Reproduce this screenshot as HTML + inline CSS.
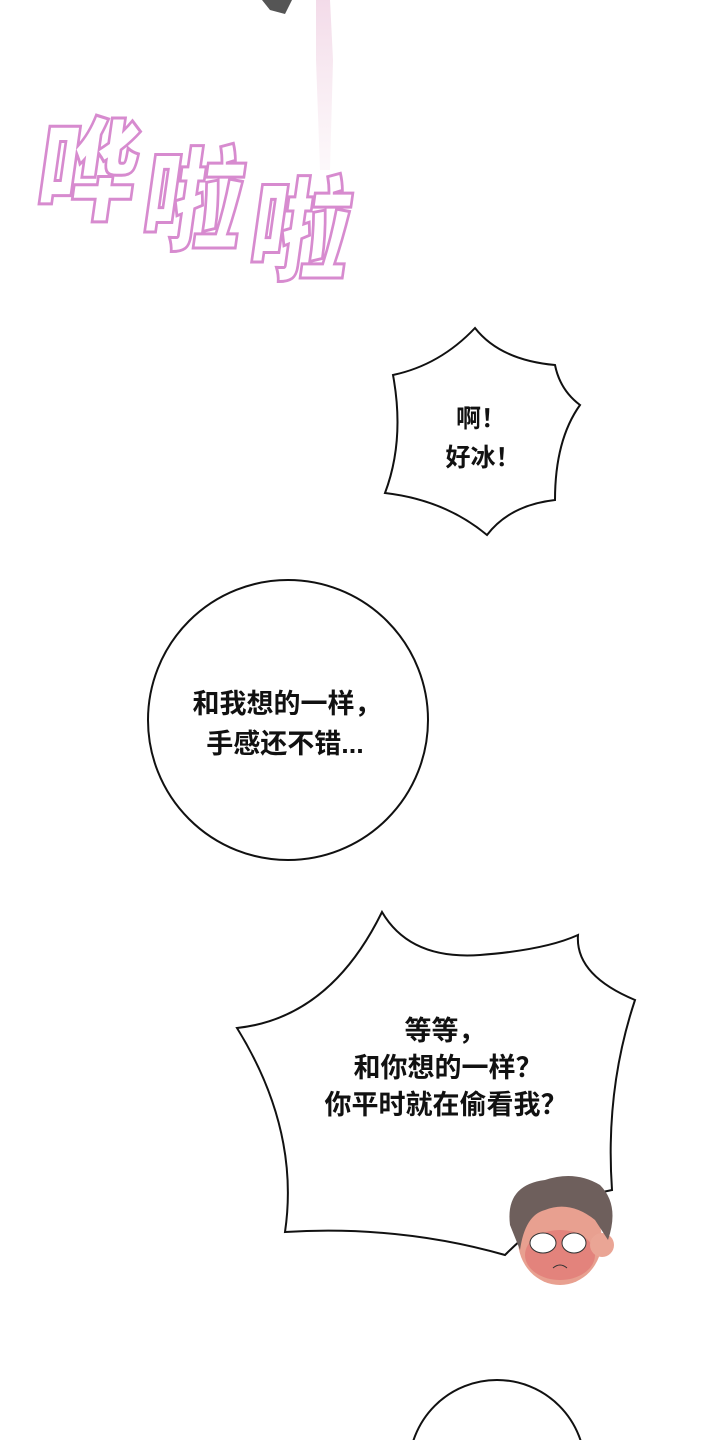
<!DOCTYPE html>
<html><head><meta charset="utf-8"><style>
html,body{margin:0;padding:0;background:#fff;width:720px;height:1440px;overflow:hidden}
svg{display:block}
.t{font-family:"Liberation Sans","Noto Sans CJK SC",sans-serif;font-weight:700;fill:#111;text-anchor:middle}
.s{font-family:"Noto Sans CJK SC",sans-serif;font-weight:900;font-size:112px;fill:#fff;stroke:#d78bcf;stroke-width:3}
</style></head><body>
<svg width="720" height="1440" viewBox="0 0 720 1440" xmlns="http://www.w3.org/2000/svg">
<defs><linearGradient id="pk" x1="0" y1="0" x2="0" y2="1">
<stop offset="0" stop-color="#f3dbe9"/><stop offset="1" stop-color="#f7e8ef" stop-opacity="0.3"/></linearGradient></defs>
<polygon points="262,0 292,0 285,14 270,10" fill="#555"/>
<path d="M316,0 L330,0 L333,60 L330,170 L320,170 L316,60 Z" fill="url(#pk)"/>
<text class="s" transform="translate(32,211) skewX(-8) scale(0.9,1)">哗</text>
<text class="s" transform="translate(138,241) skewX(-8) scale(0.9,1)">啦</text>
<text class="s" transform="translate(245,271) skewX(-8) scale(0.9,1)">啦</text>
<path d="M393,375 Q440,365 475,328 Q500,360 555,365 Q560,390 580,405 Q555,440 555,500 Q510,505 487,535 Q445,500 385,493 Q405,440 393,375 Z" fill="#fff" stroke="#111" stroke-width="2"/>
<text class="t" x="481" y="427" font-size="25">啊！</text>
<text class="t" x="483" y="466" font-size="25">好冰！</text>
<circle cx="288" cy="720" r="140" fill="#fff" stroke="#111" stroke-width="2"/>
<text class="t" x="287" y="713" font-size="27">和我想的一样，</text>
<text class="t" x="285" y="753" font-size="27">手感还不错...</text>
<path d="M237,1028 Q330,1018 382,912 Q410,960 480,955 Q545,950 578,935 Q575,975 635,1000 Q605,1090 612,1190 Q560,1200 505,1255 Q400,1225 285,1232 Q300,1130 237,1028 Z" fill="#fff" stroke="#111" stroke-width="2"/>
<text class="t" x="445" y="1040" font-size="27">等等，</text>
<text class="t" x="448" y="1077" font-size="27">和你想的一样？</text>
<text class="t" x="446" y="1114" font-size="27">你平时就在偷看我？</text>
<g>
<ellipse cx="560" cy="1240" rx="42" ry="45" fill="#e8a090"/>
<ellipse cx="560" cy="1255" rx="35" ry="25" fill="#e07070" opacity="0.6"/>
<circle cx="602" cy="1245" r="12" fill="#eaa595"/>
<path d="M510,1225 Q505,1185 545,1180 Q575,1170 600,1185 Q620,1205 608,1240 L595,1220 Q570,1200 545,1210 Q525,1215 520,1250 Z" fill="#6e5f5c"/>
<ellipse cx="543" cy="1243" rx="13" ry="10" fill="#fff" stroke="#333"/>
<ellipse cx="574" cy="1243" rx="12" ry="10" fill="#fff" stroke="#333"/>
<path d="M553,1268 Q560,1262 567,1268" stroke="#333" fill="none"/>
</g>
<circle cx="497" cy="1468" r="88" fill="#fff" stroke="#111" stroke-width="2"/>
</svg>
</body></html>
